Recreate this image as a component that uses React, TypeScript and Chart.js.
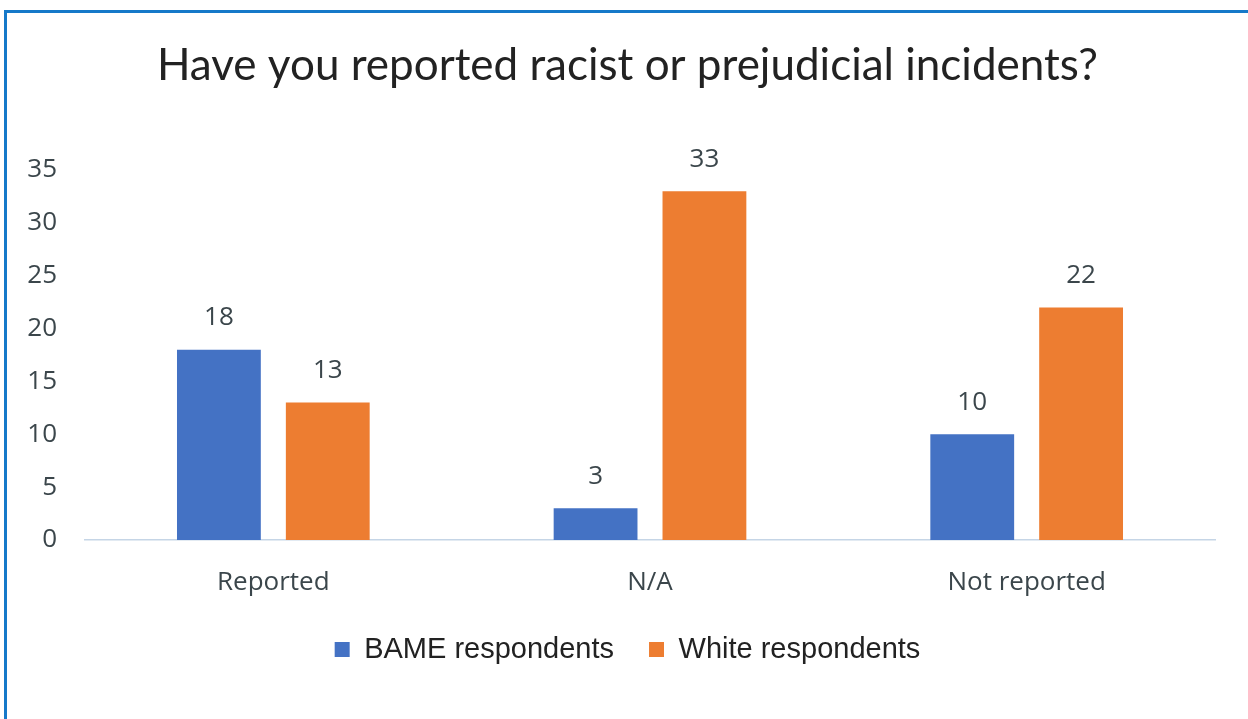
import React, { useEffect, useRef } from "react";
import { Chart, registerables } from "chart.js";

Chart.register(...registerables);

const categories = ["Reported", "N/A", "Not reported"];
const bameValues = [18, 3, 10];
const whiteValues = [13, 33, 22];
const seriesNames = ["BAME respondents", "White respondents"];
const yTicks = [0, 5, 10, 15, 20, 25, 30, 35];
const titleText = "Have you reported racist or prejudicial incidents?";

const BLUE = "#4472C4";
const ORANGE = "#ED7D31";
const TEXT = "#3b464b";

const valueLabels = {
  id: "valueLabels",
  afterDatasetsDraw(chart: any) {
    const ctx = chart.ctx;
    ctx.save();
    ctx.font = "26px 'Open Sans'";
    ctx.fillStyle = TEXT;
    ctx.textAlign = "center";
    ctx.textBaseline = "middle";
    chart.data.datasets.forEach((ds: any, di: number) => {
      const meta = chart.getDatasetMeta(di);
      meta.data.forEach((bar: any, i: number) => {
        ctx.fillText(String(ds.data[i]), bar.x, bar.y - 32);
      });
    });
    ctx.restore();
  },
};

export default function App() {
  const ref = useRef<HTMLCanvasElement | null>(null);
  useEffect(() => {
    document.body.style.margin = "0";
    document.body.style.background = "#ffffff";
    const chart = new Chart(ref.current as HTMLCanvasElement, {
      type: "bar",
      data: {
        labels: categories,
        datasets: [
          {
            label: seriesNames[0],
            data: bameValues,
            backgroundColor: BLUE,
            categoryPercentage: 0.578,
            barPercentage: 0.77,
          },
          {
            label: seriesNames[1],
            data: whiteValues,
            backgroundColor: ORANGE,
            categoryPercentage: 0.578,
            barPercentage: 0.77,
          },
        ],
      },
      options: {
        animation: false,
        responsive: false,
        maintainAspectRatio: false,
        layout: { padding: { top: 0, left: 40, right: 33, bottom: 45 } },
        plugins: {
          title: {
            display: true,
            text: titleText,
            color: "#222222",
            font: { family: "Lato", size: 44, weight: "normal", lineHeight: 1.2 },
            padding: { top: 39, bottom: 78.2 },
          },
          legend: {
            display: true,
            position: "bottom",
            labels: {
              color: "#222222",
              font: { family: "'Liberation Sans', Arial", size: 29 },
              boxWidth: 15,
              boxHeight: 15,
              padding: 35,
            },
          },
          tooltip: { enabled: false },
        },
        scales: {
          x: {
            grid: { display: false, drawTicks: false },
            border: { display: true, color: "#c5d5e6", width: 1.5 },
            ticks: {
              color: TEXT,
              font: { family: "'Open Sans'", size: 26 },
              padding: 27,
            },
            afterFit: (scale: any) => {
              scale.height = 60;
            },
          },
          y: {
            min: 0,
            max: 35,
            grid: { display: false, drawTicks: false },
            border: { display: false },
            afterBuildTicks: (scale: any) => {
              scale.ticks = yTicks.map((v) => ({ value: v }));
            },
            ticks: {
              color: TEXT,
              font: { family: "'Open Sans'", size: 26 },
              padding: 28,
            },
            afterFit: (scale: any) => {
              scale.width = 45;
              scale._computeLabelArea = () => undefined;
            },
          },
        },
      },
      plugins: [valueLabels],
    });
    return () => chart.destroy();
  }, []);

  return (
    <div style={{ position: "absolute", left: 0, top: 0, width: 1248, height: 719, background: "#fff" }}>
      <canvas ref={ref} width={1248} height={719} style={{ position: "absolute", left: 0, top: 0 }} />
      <div
        style={{
          position: "absolute",
          left: 4,
          top: 10,
          width: 1244,
          height: 709,
          boxSizing: "border-box",
          borderLeft: "3px solid #1679c9",
          borderTop: "3px solid #1679c9",
          pointerEvents: "none",
        }}
      />
    </div>
  );
}
